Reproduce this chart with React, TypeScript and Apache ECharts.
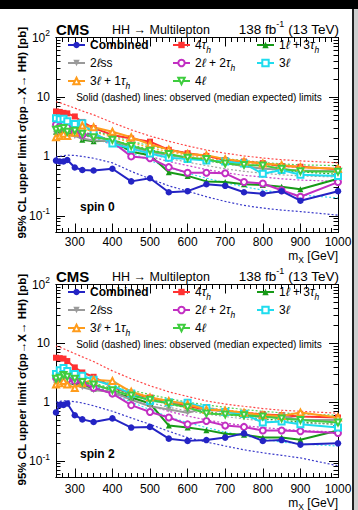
import React, { useEffect, useRef } from "react";
import * as echarts from "echarts";

const FONT = '"Liberation Sans", Arial, Helvetica, sans-serif';

// ---------- data ----------
const masses = [250, 260, 270, 280, 300, 320, 350, 400, 450, 500, 550, 600, 650, 700, 750, 800, 850, 900, 1000];
const channels = ["Combined", "4τh", "1ℓ + 3τh", "2ℓss", "2ℓ + 2τh", "3ℓ", "3ℓ + 1τh", "4ℓ"];
const xTickLabels = [300, 400, 500, 600, 700, 800, 900, 1000];
const yTickLabels = [-1, 0, 1, 2];

// spin 0 observed
const s0CombinedObs = [0.85, 0.82, 0.82, 0.87, 0.65, 0.59, 0.58, 0.62, 0.38, 0.43, 0.25, 0.26, 0.34, 0.32, 0.25, 0.235, 0.26, 0.18, 0.26];
const s0Tau4Obs = [5.7, 5.6, 5.4, 5.3, 4.7, 3.8, 3.0, 2.3, 2.0, 1.77, 1.29, 1.13, 1.02, 0.87, 0.82, 0.77, 0.69, 0.67, 0.61];
const s0L1T3Obs = [2.6, 2.5, 2.8, 2.4, 2.5, 1.9, 1.8, 1.85, 1.2, 1.05, 0.54, 0.47, 0.38, 0.37, 0.34, 0.33, 0.31, 0.28, 0.42];
const s0L2ssObs = [2.4, 2.2, 2.5, 2.3, 2.2, 2.0, 1.85, 1.8, 1.45, 1.2, 1.05, 0.95, 0.88, 0.78, 0.68, 0.62, 0.6, 0.58, 0.56];
const s0L2T2Obs = [3.4, 3.2, 3.0, 3.1, 2.6, 2.3, 2.4, 1.75, 1.0, 0.93, 0.66, 0.53, 0.53, 0.52, 0.37, 0.35, 0.27, 0.21, 0.37];
const s0L3Obs = [4.4, 4.2, 4.3, 3.9, 3.5, 3.6, 2.5, 1.65, 1.35, 1.12, 0.95, 0.9, 0.85, 0.82, 0.76, 0.51, 0.59, 0.49, 0.47];
const s0L3T1Obs = [2.1, 2.2, 2.4, 2.2, 2.5, 3.3, 3.1, 2.6, 2.1, 1.6, 1.3, 1.1, 1.05, 0.9, 0.82, 0.76, 0.72, 0.66, 0.62];
const s0L4Obs = [2.8, 2.9, 3.0, 2.6, 2.7, 2.4, 2.1, 1.9, 1.5, 1.25, 1.1, 0.95, 0.9, 0.76, 0.72, 0.7, 0.62, 0.56, 0.55];

// spin 0 median expected
const s0CombinedExp = [0.98, 1.0, 1.03, 1.05, 1.04, 1.0, 0.93, 0.78, 0.56, 0.42, 0.32, 0.26, 0.21, 0.175, 0.15, 0.135, 0.125, 0.118, 0.103];
const s0Tau4Exp = [8.3, 8.0, 7.6, 7.2, 6.5, 5.8, 5.0, 3.7, 2.8, 2.2, 1.8, 1.5, 1.28, 1.13, 1.02, 0.94, 0.88, 0.84, 0.78];
const s0L1T3Exp = [3.2, 3.2, 3.1, 3.0, 2.8, 2.6, 2.3, 1.9, 1.55, 1.3, 1.1, 0.95, 0.85, 0.75, 0.68, 0.62, 0.58, 0.55, 0.5];
const s0L2ssExp = [2.9, 2.8, 2.8, 2.7, 2.6, 2.4, 2.1, 1.7, 1.35, 1.1, 0.92, 0.8, 0.7, 0.62, 0.56, 0.52, 0.49, 0.47, 0.45];
const s0L2T2Exp = [3.0, 2.9, 2.9, 2.8, 2.6, 2.3, 2.0, 1.6, 1.25, 1.0, 0.82, 0.7, 0.6, 0.53, 0.48, 0.45, 0.42, 0.4, 0.38];
const s0L3Exp = [3.3, 3.2, 3.1, 3.0, 2.8, 2.5, 2.1, 1.55, 1.15, 0.85, 0.65, 0.52, 0.43, 0.36, 0.31, 0.27, 0.245, 0.225, 0.2];
const s0L3T1Exp = [3.4, 3.4, 3.3, 3.2, 3.1, 2.9, 2.6, 2.1, 1.7, 1.4, 1.2, 1.05, 0.93, 0.84, 0.77, 0.72, 0.68, 0.65, 0.62];
const s0L4Exp = [3.6, 3.5, 3.5, 3.4, 3.2, 3.0, 2.7, 2.2, 1.8, 1.5, 1.3, 1.15, 1.02, 0.92, 0.85, 0.79, 0.75, 0.72, 0.7];

// spin 2 observed
const s2CombinedObs = [0.67, 0.9, 0.9, 0.95, 0.6, 0.51, 0.46, 0.53, 0.37, 0.38, 0.24, 0.22, 0.227, 0.25, 0.295, 0.22, 0.227, 0.19, 0.2];
const s2Tau4Obs = [5.7, 5.6, 5.5, 5.0, 3.9, 3.2, 2.7, 1.8, 1.4, 1.2, 1.0, 0.85, 0.75, 0.7, 0.66, 0.62, 0.6, 0.57, 0.55];
const s2L1T3Obs = [2.1, 2.4, 2.5, 2.4, 2.2, 2.0, 1.7, 1.45, 1.2, 0.95, 0.4, 0.37, 0.335, 0.29, 0.28, 0.25, 0.25, 0.23, 0.33];
const s2L2ssObs = [2.0, 2.2, 2.3, 2.1, 2.0, 1.8, 1.6, 1.5, 1.1, 0.85, 0.75, 0.66, 0.8, 0.7, 0.62, 0.55, 0.58, 0.5, 0.5];
const s2L2T2Obs = [2.6, 2.7, 2.5, 2.4, 2.3, 2.1, 1.75, 1.4, 0.89, 0.68, 0.55, 0.42, 0.48, 0.4, 0.38, 0.33, 0.33, 0.32, 0.3];
const s2L3Obs = [3.0, 3.5, 3.8, 3.4, 3.0, 2.8, 2.4, 1.9, 1.4, 1.05, 1.0, 0.98, 0.8, 0.68, 0.63, 0.45, 0.47, 0.42, 0.37];
const s2L3T1Obs = [2.0, 2.1, 2.3, 2.0, 1.75, 2.1, 2.4, 2.3, 1.5, 1.2, 1.05, 0.92, 0.75, 0.72, 0.66, 0.6, 0.58, 0.67, 0.55];
const s2L4Obs = [2.5, 2.6, 2.9, 2.7, 2.5, 2.2, 2.0, 1.6, 1.3, 1.1, 0.95, 0.82, 0.64, 0.62, 0.6, 0.57, 0.53, 0.5, 0.45];

// spin 2 median expected
const s2CombinedExp = [1.0, 1.03, 1.05, 1.06, 1.02, 0.97, 0.87, 0.7, 0.54, 0.42, 0.32, 0.25, 0.21, 0.18, 0.155, 0.138, 0.125, 0.113, 0.083];
const s2Tau4Exp = [9.0, 8.6, 8.1, 7.6, 6.7, 5.9, 4.9, 3.4, 2.5, 1.9, 1.5, 1.25, 1.05, 0.93, 0.85, 0.78, 0.73, 0.7, 0.65];
const s2L1T3Exp = [3.0, 3.0, 2.9, 2.8, 2.6, 2.4, 2.1, 1.7, 1.35, 1.1, 0.92, 0.8, 0.7, 0.62, 0.56, 0.52, 0.49, 0.46, 0.42];
const s2L2ssExp = [2.7, 2.7, 2.6, 2.5, 2.4, 2.2, 1.9, 1.5, 1.2, 0.98, 0.82, 0.71, 0.63, 0.57, 0.52, 0.48, 0.46, 0.44, 0.42];
const s2L2T2Exp = [2.8, 2.8, 2.7, 2.6, 2.4, 2.2, 1.85, 1.45, 1.1, 0.87, 0.7, 0.58, 0.5, 0.44, 0.4, 0.37, 0.35, 0.33, 0.31];
const s2L3Exp = [3.1, 3.0, 2.9, 2.8, 2.6, 2.3, 1.9, 1.4, 1.0, 0.75, 0.56, 0.45, 0.37, 0.31, 0.27, 0.235, 0.21, 0.195, 0.18];
const s2L3T1Exp = [3.2, 3.2, 3.1, 3.0, 2.9, 2.7, 2.4, 1.9, 1.5, 1.25, 1.05, 0.92, 0.82, 0.74, 0.68, 0.63, 0.6, 0.57, 0.55];
const s2L4Exp = [3.4, 3.3, 3.3, 3.2, 3.0, 2.8, 2.5, 2.0, 1.6, 1.35, 1.15, 1.0, 0.9, 0.82, 0.75, 0.7, 0.66, 0.63, 0.6];

const spin0Obs = [s0CombinedObs, s0Tau4Obs, s0L1T3Obs, s0L2ssObs, s0L2T2Obs, s0L3Obs, s0L3T1Obs, s0L4Obs];
const spin0Exp = [s0CombinedExp, s0Tau4Exp, s0L1T3Exp, s0L2ssExp, s0L2T2Exp, s0L3Exp, s0L3T1Exp, s0L4Exp];
const spin2Obs = [s2CombinedObs, s2Tau4Obs, s2L1T3Obs, s2L2ssObs, s2L2T2Obs, s2L3Obs, s2L3T1Obs, s2L4Obs];
const spin2Exp = [s2CombinedExp, s2Tau4Exp, s2L1T3Exp, s2L2ssExp, s2L2T2Exp, s2L3Exp, s2L3T1Exp, s2L4Exp];

// ---------- styles ----------
const colors = ["#2424c4", "#ff3232", "#179a17", "#9a9a9a", "#c22fc2", "#1fdcee", "#ff9c1c", "#3fcd3f"];
const symbols = ["circle", "rect", "triangle", "triangle", "emptyCircle", "emptyRect", "emptyTriangle", "emptyTriangle"];
const symbolRot = [0, 0, 0, 180, 0, 0, 0, 180];
const legendRich: Record<string, string> = {
  "Combined": "{b|Combined}",
  "4τh": "4{it|τ}{sub|h}",
  "1ℓ + 3τh": "1{it|ℓ} + 3{it|τ}{sub|h}",
  "2ℓss": "2{it|ℓ}ss",
  "2ℓ + 2τh": "2{it|ℓ} + 2{it|τ}{sub|h}",
  "3ℓ": "3{it|ℓ}",
  "3ℓ + 1τh": "3{it|ℓ} + 1{it|τ}{sub|h}",
  "4ℓ": "4{it|ℓ}",
};
// legend placement: [column x, row]
const legendPos = [[67, 0], [172, 0], [256, 0], [67, 1], [172, 1], [256, 1], [67, 2], [172, 2]];
const legendRowY = [45, 63, 81];

const Y_MIN = -1.28;
const Y_MAX = 2;

const panels = [
  { top: 37.5, height: 195, off: 0, label: "spin 0", obs: spin0Obs, exp: spin0Exp, labelMargin: 3, mxY: 256 },
  { top: 284.5, height: 193, off: 247, label: "spin 2", obs: spin2Obs, exp: spin2Exp, labelMargin: 5, mxY: 503 },
];

function App() {
  const ref = useRef<HTMLDivElement>(null);
  useEffect(() => {
    if (!ref.current) return;
    const chart = echarts.init(ref.current, null, { renderer: "svg" });

    const xMinor: number[] = [];
    for (let k = -3; k <= 42; k++) xMinor.push(300 + (k * 100) / 6);
    const yMinor: number[] = [];
    for (let n = -2; n <= 1; n++) {
      for (let k = 2; k <= 9; k++) {
        const v = Math.log10(k * Math.pow(10, n));
        if (v >= Y_MIN && v <= Y_MAX) yMinor.push(v);
      }
    }
    const line = { color: "#000", width: 1 };
    const grids: any[] = [];
    const xAxes: any[] = [];
    const yAxes: any[] = [];
    const series: any[] = [];
    const legends: any[] = [];
    const graphics: any[] = [];

    panels.forEach((p, pi) => {
      grids.push({ left: 56, right: 20, top: p.top, height: p.height, containLabel: false });
      const xb = {
        type: "value", gridIndex: pi, min: 250, max: 1000,
        splitLine: { show: false },
        axisLine: { show: true, onZero: false, lineStyle: line },
      };
      xAxes.push({
        ...xb, position: "bottom",
        axisTick: { show: true, inside: true, length: 9, customValues: xTickLabels, lineStyle: line },
        axisLabel: {
          show: true, customValues: xTickLabels, margin: p.labelMargin, fontFamily: FONT, fontSize: 12, color: "#000",
          formatter: (v: number) => String(v),
        },
      });
      xAxes.push({ ...xb, position: "bottom", axisTick: { show: true, inside: true, length: 4.5, customValues: xMinor, lineStyle: line }, axisLabel: { show: false } });
      xAxes.push({ ...xb, position: "top", axisTick: { show: true, inside: true, length: 9, customValues: xTickLabels, lineStyle: line }, axisLabel: { show: false } });
      xAxes.push({ ...xb, position: "top", axisTick: { show: true, inside: true, length: 4.5, customValues: xMinor, lineStyle: line }, axisLabel: { show: false } });

      const yb = {
        type: "value", gridIndex: pi, min: Y_MIN, max: Y_MAX,
        splitLine: { show: false },
        axisLine: { show: true, onZero: false, lineStyle: line },
      };
      yAxes.push({
        ...yb, position: "left",
        axisTick: { show: true, inside: true, length: 9, customValues: yTickLabels, lineStyle: line },
        axisLabel: {
          show: true, customValues: yTickLabels, margin: 6, fontFamily: FONT, fontSize: 12, color: "#000", lineHeight: 18,
          formatter: (v: number) => (v === 2 ? "10{sup|2}" : v === 1 ? "10" : v === 0 ? "1" : "10{sup|-1}"),
          rich: { sup: { fontFamily: FONT, fontSize: 8.5, lineHeight: 18, verticalAlign: "top", color: "#000" } },
        },
      });
      yAxes.push({ ...yb, position: "left", axisTick: { show: true, inside: true, length: 4.5, customValues: yMinor, lineStyle: line }, axisLabel: { show: false } });
      yAxes.push({ ...yb, position: "right", axisTick: { show: true, inside: true, length: 9, customValues: yTickLabels, lineStyle: line }, axisLabel: { show: false } });
      yAxes.push({ ...yb, position: "right", axisTick: { show: true, inside: true, length: 4.5, customValues: yMinor, lineStyle: line }, axisLabel: { show: false } });

      const xi = pi * 4;
      // expected (dashed)
      channels.forEach((c, ci) => {
        series.push({
          type: "line", name: c + " expected", xAxisIndex: xi, yAxisIndex: xi,
          data: masses.map((m, i) => [m, Math.log10(p.exp[ci][i])]),
          symbol: "none", silent: true, z: 2,
          lineStyle: { color: colors[ci], width: 1.2, type: [2, 2], opacity: 0.9 },
        });
      });
      // observed (solid)
      [1, 2, 3, 4, 5, 6, 7, 0].forEach((ci) => {
        series.push({
          type: "line", name: channels[ci], xAxisIndex: xi, yAxisIndex: xi,
          data: masses.map((m, i) => [m, Math.log10(p.obs[ci][i])]),
          symbol: symbols[ci], symbolSize: ci === 0 ? 6.5 : 6, symbolRotate: symbolRot[ci],
          silent: true, z: ci === 0 ? 5 : 3,
          itemStyle: { color: colors[ci], borderColor: colors[ci], borderWidth: ci >= 4 ? 1.4 : 0 },
          lineStyle: { color: colors[ci], width: 2 },
        });
      });

      channels.forEach((c, ci) => {
        const [lx, row] = legendPos[ci];
        legends.push({
          show: true, left: lx, top: legendRowY[row] + p.off - 9, padding: 0,
          itemWidth: 17, itemHeight: 8, selectedMode: false, data: [c],
          formatter: (name: string) => legendRich[name],
          textStyle: {
            fontFamily: FONT, fontSize: 12, color: "#000", lineHeight: 18,
            rich: {
              b: { fontFamily: FONT, fontSize: 12, fontWeight: "bold", color: "#000", lineHeight: 18 },
              it: { fontFamily: FONT, fontSize: 12, fontStyle: "italic", color: "#000", lineHeight: 18 },
              sub: { fontFamily: FONT, fontSize: 8.5, fontStyle: "italic", color: "#000", lineHeight: 18, verticalAlign: "bottom" },
            },
          },
        });
      });

      const o = p.off;
      graphics.push(
        { type: "text", x: 56, y: 29 + o, style: { text: "CMS", fontFamily: FONT, fontSize: 15, fontWeight: "bold", fill: "#000", align: "left", verticalAlign: "middle" } },
        { type: "text", x: 112, y: 30 + o, style: { text: "HH → Multilepton", fontFamily: FONT, fontSize: 12.5, fill: "#000", align: "left", verticalAlign: "middle" } },
        {
          type: "text", x: 339, y: 29 + o,
          style: {
            text: "138 fb{sup|-1} (13 TeV)", fontFamily: FONT, fontSize: 13.5, fill: "#000", align: "right", verticalAlign: "middle", lineHeight: 20,
            rich: { sup: { fontFamily: FONT, fontSize: 9, fill: "#000", lineHeight: 20, verticalAlign: "top" } },
          },
        },
        {
          type: "text", x: 22, y: 27 + o, rotation: Math.PI / 2,
          style: { text: "95% CL upper limit σ(pp→X→ HH) [pb]", fontFamily: FONT, fontSize: 11.5, fontWeight: "bold", fill: "#000", align: "right", verticalAlign: "middle" },
        },
        { type: "text", x: 199, y: 97 + o, style: { text: "Solid (dashed) lines: observed (median expected) limits", fontFamily: FONT, fontSize: 10, fill: "#000", align: "center", verticalAlign: "middle" } },
        { type: "text", x: 80, y: 207 + o, style: { text: p.label, fontFamily: FONT, fontSize: 12, fontWeight: "bold", fill: "#000", align: "left", verticalAlign: "middle" } },
        {
          type: "text", x: 338, y: p.mxY,
          style: {
            text: "m{sub|X} [GeV]", fontFamily: FONT, fontSize: 12, fill: "#000", align: "right", verticalAlign: "middle", lineHeight: 16,
            rich: { sub: { fontFamily: FONT, fontSize: 8.5, fill: "#000", lineHeight: 16, verticalAlign: "bottom" } },
          },
        }
      );
    });

    graphics.push(
      { type: "rect", shape: { x: 0, y: 0, width: 358, height: 9 }, style: { fill: "#000" }, z: 100 },
      { type: "rect", shape: { x: 352, y: 9, width: 2, height: 501 }, style: { fill: "#222" }, z: 100 },
      { type: "rect", shape: { x: 354, y: 9, width: 4, height: 501 }, style: { fill: "#cfcfcf" }, z: 100 }
    );

    chart.setOption({
      animation: false,
      backgroundColor: "#fff",
      grid: grids,
      xAxis: xAxes,
      yAxis: yAxes,
      legend: legends,
      series,
      graphic: graphics,
    });
    return () => chart.dispose();
  }, []);
  return (
    <div
      ref={ref}
      style={{ position: "absolute", left: 0, top: 0, width: 358, height: 510 }}
    />
  );
}

export default App;
